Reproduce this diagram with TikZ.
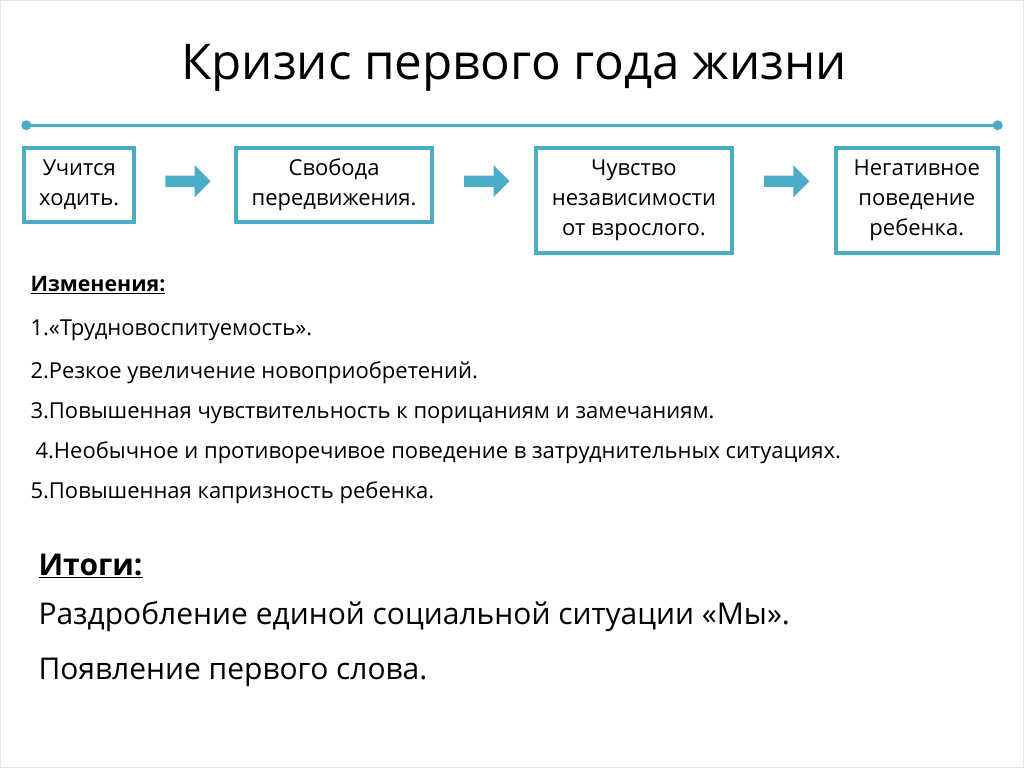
\documentclass[tikz,border=0pt]{standalone}
\usepackage{fontspec}
\setmainfont{Open Sans}
\usetikzlibrary{shapes.arrows}
\definecolor{teal1}{RGB}{75,172,198}
\begin{document}
\begin{tikzpicture}[x=0.75pt,y=-0.75pt,
  box/.style={draw=teal1,line width=3pt,inner sep=0pt,align=center,font=\fontsize{16.5}{22.5}\selectfont},
  flow/.style={single arrow,fill=teal1,draw=none,minimum width=24pt,single arrow head extend=4pt,minimum height=34pt,inner sep=2pt,single arrow head indent=0pt},
  txt/.style={anchor=west,inner sep=0pt,font=\fontsize{16.5}{20}\selectfont}]
\path[fill=white,draw=black!10] (0,0) rectangle (1024,767);
\node[font=\fontsize{37}{42}\selectfont] (title) at (514,68) {Кризис первого года жизни};
\coordinate (l1) at (26,125); \coordinate (l2) at (998,125);
\draw[teal1,line width=2.2pt] (l1) -- (l2);
\fill[teal1] (l1) circle (5) (l2) circle (5);
\node[box,minimum width=82.5pt,minimum height=55.5pt] (b1) at (79,185) {Учится\\ходить.};
\node[box,minimum width=147pt,minimum height=55.5pt] (b2) at (334,185) {Свобода\\передвижения.};
\node[box,minimum width=147pt,minimum height=78.75pt] (b3) at (634,200.5) {Чувство\\независимости\\от взрослого.};
\node[box,minimum width=121.5pt,minimum height=78.75pt] (b4) at (917,200.5) {Негативное\\поведение\\ребенка.};
\node[flow] (a1) at (185,181) {};
\node[flow] (a2) at (484,181) {};
\node[flow] (a3) at (784,181) {};
\node[txt,font=\fontsize{16}{20}\selectfont\bfseries] (h1) at (30,285) {\underline{Изменения:}};
\node[txt] (i1) at (30,330) {1.«Трудновоспитуемость».};
\node[txt] (i2) at (30,373) {2.Резкое увеличение новоприобретений.};
\node[txt] (i3) at (30,413) {3.Повышенная чувствительность к порицаниям и замечаниям.};
\node[txt] (i4) at (35,453) {4.Необычное и противоречивое поведение в затруднительных ситуациях.};
\node[txt] (i5) at (30,493) {5.Повышенная капризность ребенка.};
\node[txt,font=\fontsize{22.5}{26}\selectfont\bfseries] (h2) at (38,566) {\underline{Итоги:}};
\node[txt,font=\fontsize{22.5}{26}\selectfont] (r1) at (38,617) {Раздробление единой социальной ситуации «Мы».};
\node[txt,font=\fontsize{22.5}{26}\selectfont] (r2) at (38,672) {Появление первого слова.};
\end{tikzpicture}
\end{document}
